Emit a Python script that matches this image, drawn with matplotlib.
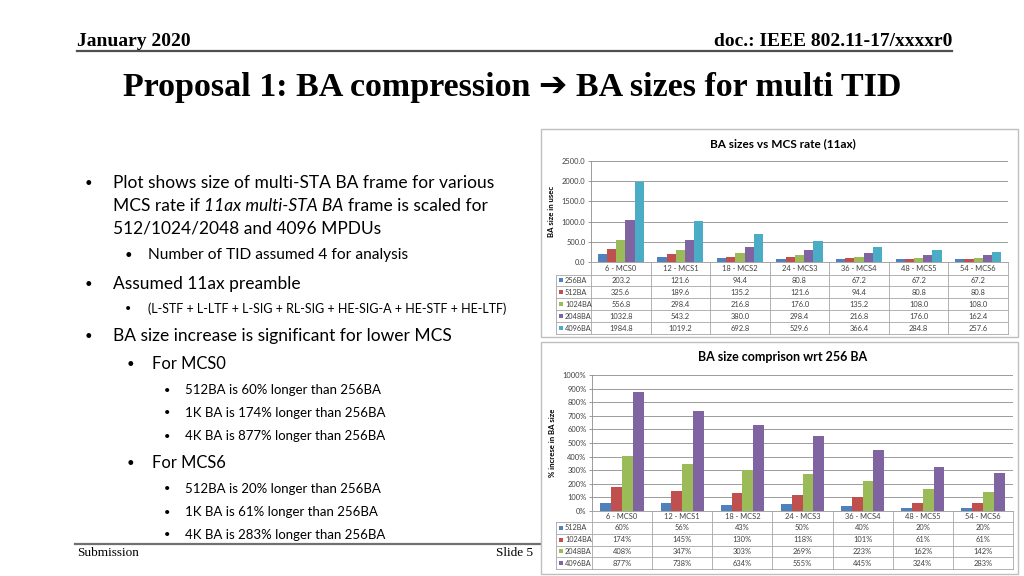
import matplotlib
matplotlib.use('Agg')
import matplotlib.pyplot as plt
from matplotlib.patches import Rectangle
from matplotlib.lines import Line2D
import matplotlib.transforms as mtrans

# ---------------- data ----------------
categories = ['6 - MCS0', '12 - MCS1', '18 - MCS2', '24 - MCS3', '36 - MCS4', '48 - MCS5', '54 - MCS6']

size_series = ['256BA', '512BA', '1024BA', '2048BA', '4096BA']
size_256 = [203.2, 121.6, 94.4, 80.8, 67.2, 67.2, 67.2]
size_512 = [325.6, 189.6, 135.2, 121.6, 94.4, 80.8, 80.8]
size_1024 = [556.8, 298.4, 216.8, 176.0, 135.2, 108.0, 108.0]
size_2048 = [1032.8, 543.2, 380.0, 298.4, 216.8, 176.0, 162.4]
size_4096 = [1984.8, 1019.2, 692.8, 529.6, 366.4, 284.8, 257.6]
size_ticks = [0, 500, 1000, 1500, 2000, 2500]

pct_series = ['512BA', '1024BA', '2048BA', '4096BA']
pct_512 = [60, 56, 43, 50, 40, 20, 20]
pct_1024 = [174, 145, 130, 118, 101, 61, 61]
pct_2048 = [408, 347, 303, 269, 223, 162, 142]
pct_4096 = [877, 738, 634, 555, 445, 324, 283]
pct_ticks = [0, 100, 200, 300, 400, 500, 600, 700, 800, 900, 1000]

C_BLUE, C_RED, C_GREEN, C_PURPLE, C_CYAN = '#4F81BD', '#C0504D', '#9BBB59', '#8064A2', '#4BACC6'

W, H = 1024, 576
fig = plt.figure(figsize=(W / 100, H / 100), dpi=100)
fig.patch.set_facecolor('white')


def fx(x):
    return x / W


def fy(y):
    return 1 - y / H


SERIF = ['Liberation Serif', 'DejaVu Serif']
SANS = ['Lato', 'DejaVu Sans']

# ---------------- header / footer ----------------
fig.text(fx(77), fy(46), 'January 2020', family=SERIF, weight='bold', fontsize=14, ha='left', va='baseline')
fig.text(fx(952), fy(46), 'doc.: IEEE 802.11-17/xxxxr0', family=SERIF, weight='bold', fontsize=14,
         ha='right', va='baseline')
fig.add_artist(Line2D([fx(77), fx(952)], [fy(50.5), fy(50.5)], color='#505050', lw=1.6))
fig.text(fx(512), fy(96), 'Proposal 1: BA compression \u2794 BA sizes for multi TID',
         family=['Liberation Serif', 'DejaVu Sans'], weight='bold', fontsize=24.5, ha='center', va='baseline')

fig.add_artist(Line2D([fx(75), fx(952)], [fy(544), fy(544)], color='#707070', lw=1.6))
fig.text(fx(77), fy(556), 'Submission', family=SERIF, fontsize=9.5, ha='left', va='baseline')
fig.text(fx(533), fy(556), 'Slide 5', family=SERIF, fontsize=9.5, ha='right', va='baseline')

# ---------------- bullet text ----------------
renderer = fig.canvas.get_renderer()


def text_width(s, **kw):
    t = fig.text(0, 0, s, **kw)
    w = t.get_window_extent(renderer).width
    t.remove()
    return w


L1 = 12.5
L1b = 11.9
L2 = 11.2
L2b = 9.0
L3 = 9.5
bullets = [
    # (bullet_x, text_x, y, fontsize, text)
    (85, 113, 183, L1, 'Plot shows size of multi-STA BA frame for various'),
    (None, 113, 206, L1, None),
    (None, 113, 229, L1, '512/1024/2048 and 4096 MPDUs'),
    (125, 148, 255, L2, 'Number of TID assumed 4 for analysis'),
    (85, 113, 284, L1, 'Assumed 11ax preamble'),
    (125, 148, 309, L2b, '(L-STF + L-LTF + L-SIG + RL-SIG + HE-SIG-A + HE-STF + HE-LTF)'),
    (85, 113, 336, L1, 'BA size increase is significant for lower MCS'),
    (127, 152, 364, L1b, 'For MCS0'),
    (164, 185, 390, L3, '512BA is 60% longer than 256BA'),
    (164, 185, 413, L3, '1K BA is 174% longer than 256BA'),
    (164, 185, 436, L3, '4K BA is 877% longer than 256BA'),
    (127, 152, 463, L1b, 'For MCS6'),
    (164, 185, 489, L3, '512BA is 20% longer than 256BA'),
    (164, 185, 512, L3, '1K BA is 61% longer than 256BA'),
    (164, 185, 535, L3, '4K BA is 283% longer than 256BA'),
]
for bx, tx, y, fs, s in bullets:
    if bx is not None:
        fig.text(fx(bx), fy(y), '\u2022', family=SANS, fontsize=min(fs, 11) * 0.85, ha='left', va='center')
    if s is not None:
        fig.text(fx(tx), fy(y), s, family=SANS, fontsize=fs, ha='left', va='center')

# mixed upright / italic line
space_w = text_width('x x', family=SANS, fontsize=L1) - text_width('xx', family=SANS, fontsize=L1)
x = 113
parts = [('MCS rate if', 'normal'), ('11ax multi-STA BA', 'italic'), ('frame is scaled for', 'normal')]
for s, st in parts:
    t = fig.text(fx(x), fy(206), s, family=SANS, fontsize=L1, style=st, ha='left', va='center')
    x += t.get_window_extent(renderer).width + space_w


# ---------------- charts ----------------
def draw_chart(frame, axpx, title, title_y, ylabel, ylabel_x, names, values, colors, ticks, tick_fmt, cell_fmt,
               table_left, header_bottom, table_bottom, bar_w, title_fs):
    fl, ft, fr, fb = frame
    fig.add_artist(Rectangle((fx(fl), fy(fb)), (fr - fl) / W, (fb - ft) / H, transform=fig.transFigure,
                             facecolor='white', edgecolor='#BFBFBF', lw=1.0, zorder=2))
    l, t, r, b = axpx
    ax = fig.add_axes([fx(l), fy(b), (r - l) / W, (b - t) / H], zorder=3)
    ax.set_facecolor('none')
    n = len(names)
    xs = list(range(len(categories)))
    for k, (vals, c) in enumerate(zip(values, colors)):
        off = (k - (n - 1) / 2) * bar_w
        ax.bar([xi + off for xi in xs], vals, width=bar_w, color=c, edgecolor='none', zorder=3)
    ax.set_xlim(-0.5, len(categories) - 0.5)
    ax.set_ylim(ticks[0], ticks[-1])
    ax.set_yticks(ticks)
    ax.set_yticklabels([tick_fmt(v) for v in ticks], family=SANS, fontsize=5.4, color='#404040')
    ax.set_xticks([])
    ax.grid(axis='y', color='#8C8C8C', lw=0.6, zorder=0)
    ax.set_axisbelow(True)
    for s in ['top', 'right', 'bottom']:
        ax.spines[s].set_visible(False)
    ax.spines['left'].set_color('#8C8C8C')
    ax.spines['left'].set_linewidth(0.6)
    ax.tick_params(axis='y', length=2.5, width=0.6, color='#8C8C8C', pad=1.5)
    ax.set_ylabel(ylabel, family=SANS, fontsize=5.6, weight='bold')
    ax.yaxis.set_label_coords((ylabel_x - l) / (r - l), 0.5)
    fig.text(fx((fl + fr) / 2 + 3), fy(title_y), title, family=SANS, fontsize=title_fs, weight='bold',
             ha='center', va='center', zorder=4)

    # data table
    tr = mtrans.blended_transform_factory(ax.transData, fig.transFigure)
    grid_c = '#A6A6A6'
    nrows = len(names)
    row_h = (table_bottom - header_bottom) / nrows
    fig.add_artist(Line2D([fx(l), fx(r)], [fy(b), fy(b)], color=grid_c, lw=0.7, zorder=4))
    for i in range(nrows + 1):
        yy = header_bottom + i * row_h
        fig.add_artist(Line2D([fx(table_left), fx(r)], [fy(yy), fy(yy)], color=grid_c, lw=0.6, zorder=4))
    fig.add_artist(Line2D([fx(table_left), fx(table_left)], [fy(header_bottom), fy(table_bottom)],
                          color=grid_c, lw=0.6, zorder=4))
    for j in range(len(categories) + 1):
        xx = j - 0.5
        ax.add_artist(Line2D([xx, xx], [fy(b), fy(table_bottom)], transform=tr, color=grid_c, lw=0.6,
                             clip_on=False, zorder=4))
    hy = (b + header_bottom) / 2
    for j, cat in enumerate(categories):
        ax.text(j, fy(hy), cat, transform=tr, family=SANS, fontsize=5.4, color='#404040',
                ha='center', va='center', clip_on=False)
    for i, (nm, vals, c) in enumerate(zip(names, values, colors)):
        yc = header_bottom + (i + 0.5) * row_h
        fig.add_artist(Rectangle((fx(table_left + 3), fy(yc + 2)), 4 / W, 4 / H, transform=fig.transFigure,
                                 facecolor=c, edgecolor='none', zorder=5))
        fig.text(fx(table_left + 9), fy(yc), nm, family=SANS, fontsize=5.3, color='#404040',
                 ha='left', va='center', zorder=5)
        for j, v in enumerate(vals):
            ax.text(j, fy(yc), cell_fmt(v), transform=tr, family=SANS, fontsize=5.4, color='#404040',
                    ha='center', va='center', clip_on=False)
    return ax


draw_chart(frame=(541, 129, 1018, 337), axpx=(591, 161, 1008, 262),
           title='BA sizes vs MCS rate (11ax)', title_y=144,
           ylabel='BA size in usec', ylabel_x=555,
           names=size_series, values=[size_256, size_512, size_1024, size_2048, size_4096],
           colors=[C_BLUE, C_RED, C_GREEN, C_PURPLE, C_CYAN], ticks=size_ticks,
           tick_fmt=lambda v: f'{v:.1f}', cell_fmt=lambda v: f'{v:.1f}',
           table_left=556, header_bottom=274.5, table_bottom=334, bar_w=0.155, title_fs=8.5)

draw_chart(frame=(541, 342, 1018, 574), axpx=(592, 375, 1013, 511),
           title='BA size comprison wrt 256 BA', title_y=357,
           ylabel='% increse in BA size', ylabel_x=556,
           names=pct_series, values=[pct_512, pct_1024, pct_2048, pct_4096],
           colors=[C_BLUE, C_RED, C_GREEN, C_PURPLE], ticks=pct_ticks,
           tick_fmt=lambda v: f'{v:d}%', cell_fmt=lambda v: f'{v:d}%',
           table_left=556, header_bottom=522, table_bottom=569, bar_w=0.18, title_fs=9)

fig.savefig('out.png', dpi=100, facecolor='white')
